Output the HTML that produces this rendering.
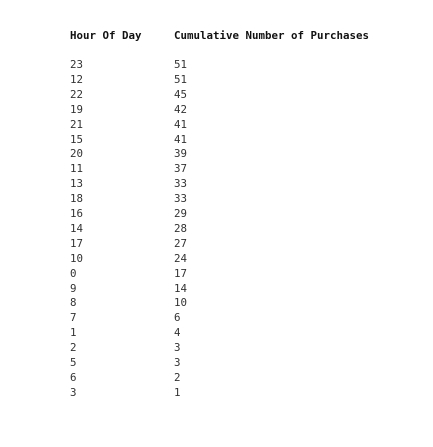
<!DOCTYPE html>
<html><head><meta charset="utf-8"><style>
body{margin:0;width:433px;height:447px;background:#fff;font-family:"DejaVu Sans Mono","Liberation Mono",monospace;font-size:10.8px;color:#333;position:relative;overflow:hidden}
.h{position:absolute;top:29px;font-weight:bold;color:#111}
.r{position:absolute;left:0;height:15px;line-height:15px}
.c1{position:absolute;left:70px}.c2{position:absolute;left:174px}
</style></head><body>
<div class="h" style="left:70px">Hour Of Day</div>
<div class="h" style="left:174px">Cumulative Number of Purchases</div>
<div id="rows"></div>
<script>
const hours=[23,12,22,19,21,15,20,11,13,18,16,14,17,10,0,9,8,7,1,2,5,6,3];
const counts=[51,51,45,42,41,41,39,37,33,33,29,28,27,24,17,14,10,6,4,3,3,2,1];
const body=document.getElementById('rows');
hours.forEach((h,i)=>{
 const r=document.createElement('div');r.className='r';r.style.top=(57+i*14.9)+'px';
 
 
 const a=document.createElement('span');a.className='c1';a.textContent=h;
 
 
 const b=document.createElement('span');b.className='c2';b.textContent=counts[i];
 
 
 r.appendChild(a);r.appendChild(b);body.appendChild(r);
});
</script>
</body></html>
